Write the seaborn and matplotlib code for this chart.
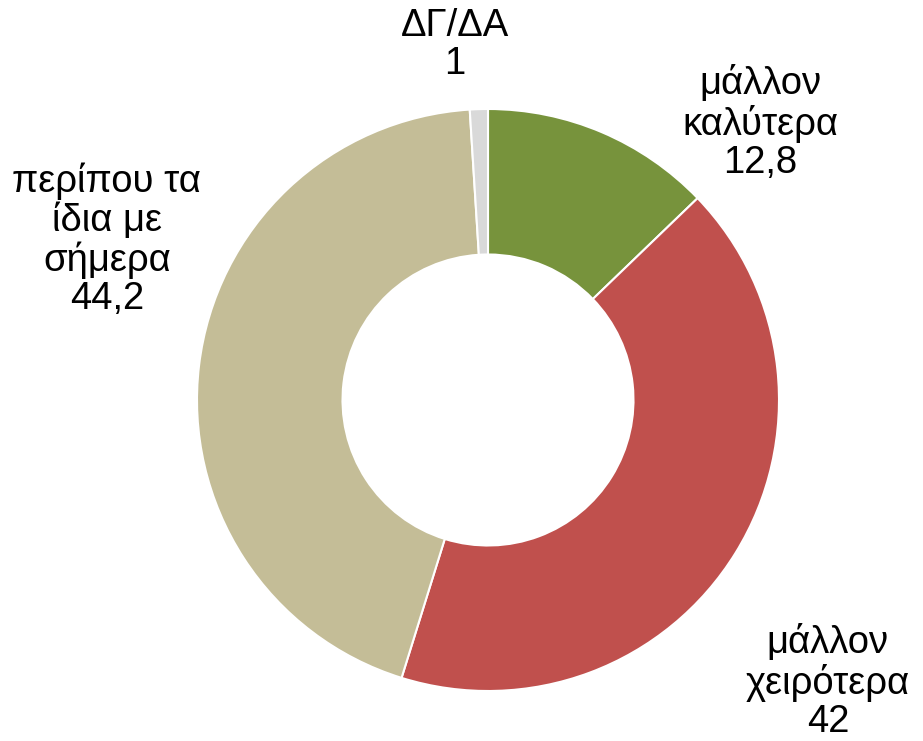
import matplotlib
matplotlib.use("Agg")
import seaborn as sns
import matplotlib.pyplot as plt

sns.set_style("white")
plt.rcParams['font.family'] = ['Liberation Sans', 'DejaVu Sans']

# data
labels = ["μάλλον\nκαλύτερα", "μάλλον\nχειρότερα", "περίπου τα\nίδια με\nσήμερα", "ΔΓ/ΔΑ"]
values = [12.8, 42, 44.2, 1]
value_text = ["12,8", "42", "44,2", "1"]
colors = ["#77933C", "#C0504D", "#C4BD97", "#D9D9D9"]

# where each label block sits (data units, pie radius = 1)
label_pos = [(0.935, 0.952), (1.168, -0.97), (-1.31, 0.55), (-0.113, 1.22)]

fig = plt.figure(figsize=(9.23, 7.41), dpi=100)
ax = fig.add_axes([0, 0, 1, 1])

ax.pie(values, colors=colors, startangle=90, counterclock=False,
       radius=1, wedgeprops=dict(width=0.5, edgecolor="white", linewidth=1.5))

for lab, val, (x, y) in zip(labels, value_text, label_pos):
    ax.text(x, y, lab + "\n" + val, ha="center", va="center",
            fontsize=27.5, linespacing=1.08, color="black")

ax.set_xlim(-488 / 291, (923 - 488) / 291)
ax.set_ylim(-341 / 291, 400 / 291)
ax.set_aspect("equal")
ax.axis("off")

fig.savefig("out.png", dpi=100, facecolor="white")
